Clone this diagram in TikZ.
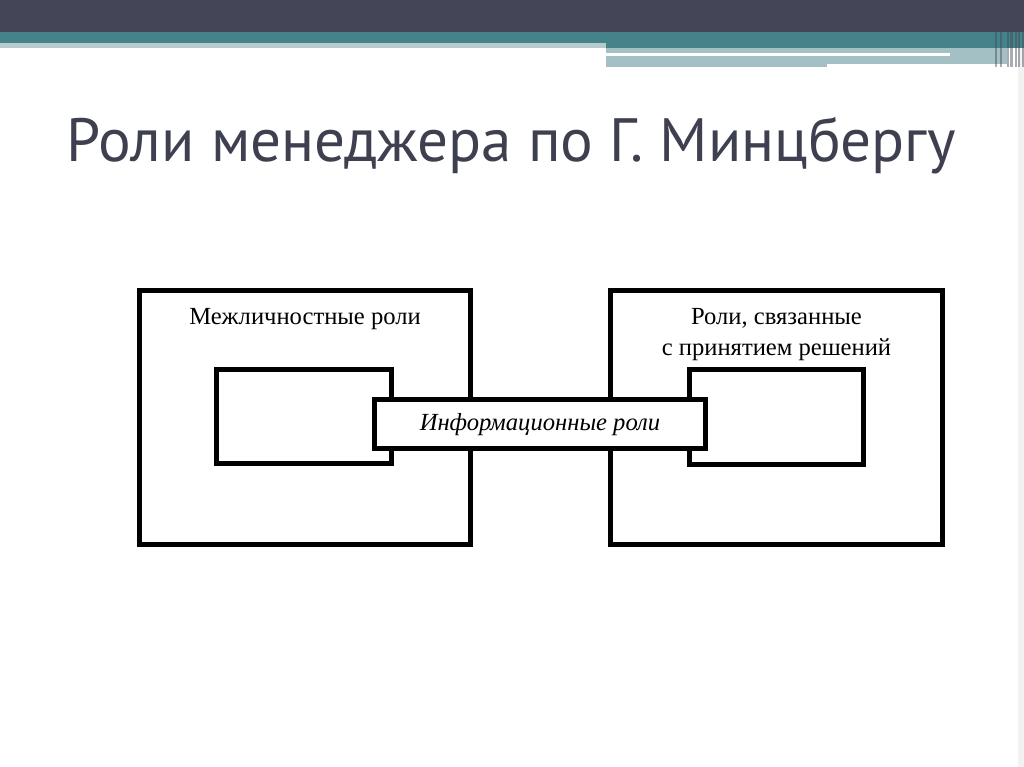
\documentclass[tikz,border=0pt]{standalone}
\usepackage{fontspec}
\setmainfont{Liberation Serif}
\newfontfamily\titlefont{PT Sans}
\usetikzlibrary{fit}
\definecolor{barDark}{HTML}{444657}
\definecolor{barTeal}{HTML}{44838A}
\definecolor{barLight}{HTML}{A3C1C5}
\definecolor{barPale}{HTML}{B7CACC}
\definecolor{titleGray}{HTML}{3E4050}
\tikzstyle{frame} = [draw=black, line width=0.11cm, inner sep=0pt, fill=white]
\tikzstyle{role} = [font={\fontsize{14}{16}\selectfont}, inner sep=0pt, anchor=base]
\tikzstyle{stripe} = [fill=barDark, opacity=0.45]

\begin{document}
\begin{tikzpicture}[x=0.02cm, y=-0.02cm]
  \useasboundingbox (0,0) rectangle (1024,767);
  \fill[white] (0,0) rectangle (1024,767);
  \fill[black!5] (1018,0) rectangle (1024,767);
  % slide header bars
  \fill[barDark] (0,0) rectangle (1024,32);
  \fill[barTeal] (0,32) rectangle (606,43);
  \fill[barTeal] (606,32) rectangle (1024,48);
  \fill[barPale] (0,43) rectangle (606,48);
  \fill[barLight] (606,48) rectangle (1007,64);
  \fill[barLight] (606,64) rectangle (827,67);
  \fill[white] (606,53) rectangle (950,56);
  \foreach \sx/\sw in {995/2,1000/2,1007/1.5,1010/3,1015/2,1018/2,1022/2}
    \fill[stripe] (\sx,0) rectangle (\sx+\sw,67);
  \node[text=titleGray, font={\titlefont\fontsize{34.8}{38}\selectfont}, anchor=base west, inner sep=0pt] (title) at (66,161) {Роли менеджера по Г. Минцбергу};
  % outer boxes
  \node[frame, fit={(139.5,290.5) (470.5,544.5)}] (interp) {};
  \node[frame, fit={(610.5,290.5) (942.5,544.5)}] (decis) {};
  \node[frame, fit={(216.5,369.5) (391.5,463.5)}] (interpin) {};
  \node[frame, fit={(689.5,369.5) (863.5,464.5)}] (decisin) {};
  \node[frame, fit={(374.5,399.5) (705.5,448.5)}] (inform) {};
  \node[role] (interplbl) at (interp.north |- 0,324) {Межличностные роли};
  \node[role] (decislbl) at (decis.north |- 0,324) {Роли, связанные};
  \node[role] (decislbltwo) at (decis.north |- 0,355) {с принятием решений};
  \node[role, font={\fontsize{14}{16}\selectfont\itshape}] (informlbl) at (inform.center |- 0,430) {Информационные роли};
\end{tikzpicture}
\end{document}
